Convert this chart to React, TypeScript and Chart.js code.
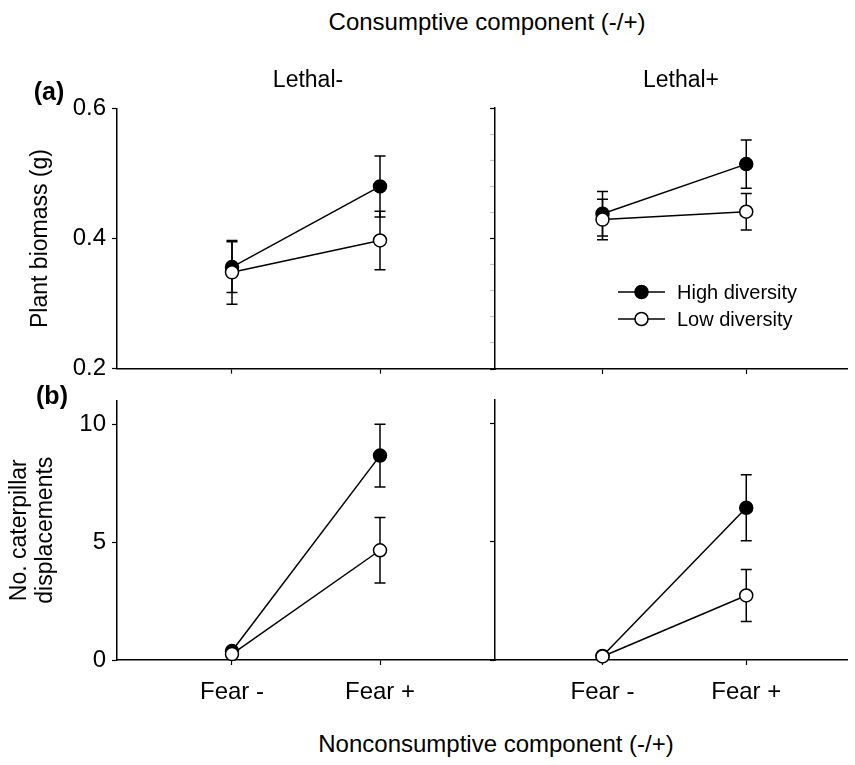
import React, { useEffect, useRef } from 'react';
import { Chart, registerables } from 'chart.js';

Chart.register(...registerables);

const FONT = "'Liberation Sans', Arial, Helvetica, sans-serif";
Chart.defaults.font.family = FONT;
Chart.defaults.color = '#000';

// ---------- data ----------
const categories = ['Fear -', 'Fear +'];
const xPos = [0, 1];
const seriesNames = ['High diversity', 'Low diversity'];
const columnTitles = ['Lethal-', 'Lethal+'];
const panelTags = ['(a)', '(b)'];
const topTitle = 'Consumptive component (-/+)';
const bottomTitle = 'Nonconsumptive component (-/+)';
const biomassTitle = 'Plant biomass (g)';
const dispTitle = ['No. caterpillar', 'displacements'];

const biomassTicks = [0.2, 0.4, 0.6];
const biomassMinorTicks = [0.2, 0.24, 0.28, 0.32, 0.36, 0.4, 0.44, 0.48, 0.52, 0.56, 0.6];
const dispTicks = [0, 5, 10];

// Plant biomass (g), Lethal-
const bioHighLm = [0.356, 0.48];
const bioHighLmErr = [0.039, 0.047];
const bioLowLm = [0.348, 0.397];
const bioLowLmErr = [0.049, 0.045];
// Plant biomass (g), Lethal+
const bioHighLp = [0.438, 0.514];
const bioHighLpErr = [0.034, 0.037];
const bioLowLp = [0.429, 0.441];
const bioLowLpErr = [0.031, 0.028];
// Caterpillar displacements, Lethal-
const dispHighLm = [0.38, 8.66];
const dispHighLmErr = [0.05, 1.33];
const dispLowLm = [0.25, 4.65];
const dispLowLmErr = [0.05, 1.39];
// Caterpillar displacements, Lethal+
const dispHighLp = [0.17, 6.44];
const dispHighLpErr = [0.03, 1.4];
const dispLowLp = [0.15, 2.73];
const dispLowLpErr = [0.03, 1.1];

// ---------- plugins ----------
const errorBarPlugin = {
  id: 'errorBars',
  beforeDatasetsDraw(chart: any) {
    const { ctx, scales } = chart;
    const x = scales.x;
    const y = scales.y;
    ctx.save();
    ctx.strokeStyle = '#000';
    ctx.lineWidth = 1.5;
    chart.data.datasets.forEach((ds: any) => {
      ds.data.forEach((pt: any, i: number) => {
        const e = ds.errors[i];
        const px = x.getPixelForValue(pt.x);
        const top = y.getPixelForValue(pt.y + e);
        const bot = y.getPixelForValue(pt.y - e);
        const cap = 5.5;
        ctx.beginPath();
        ctx.moveTo(px, top);
        ctx.lineTo(px, bot);
        ctx.moveTo(px - cap, top);
        ctx.lineTo(px + cap, top);
        ctx.moveTo(px - cap, bot);
        ctx.lineTo(px + cap, bot);
        ctx.stroke();
      });
    });
    ctx.restore();
  },
};

const legendPlugin = {
  id: 'inlineLegend',
  afterDatasetsDraw(chart: any) {
    const { ctx, chartArea } = chart;
    const x0 = chartArea.left + 123;
    const lineLen = 47;
    ctx.save();
    chart.data.datasets.forEach((ds: any, i: number) => {
      const yy = chartArea.top + 184 + i * 27;
      ctx.strokeStyle = '#000';
      ctx.lineWidth = 1.5;
      ctx.beginPath();
      ctx.moveTo(x0, yy);
      ctx.lineTo(x0 + lineLen, yy);
      ctx.stroke();
      ctx.beginPath();
      ctx.arc(x0 + lineLen / 2, yy, 6.5, 0, Math.PI * 2);
      ctx.fillStyle = ds.pointBackgroundColor;
      ctx.fill();
      ctx.stroke();
      ctx.fillStyle = '#000';
      ctx.font = `20px ${FONT}`;
      ctx.textAlign = 'left';
      ctx.textBaseline = 'middle';
      ctx.fillText(ds.label, x0 + 59, yy + 1);
    });
    ctx.restore();
  },
};

// ---------- panels ----------
interface PanelSpec {
  key: string;
  l: number; t: number; r: number; b: number;
  leftW: number; padTop: number; padRight: number; padBottom: number; bottomH: number;
  xMin: number; xMax: number;
  yMin: number; yMax: number;
  yTicks: number[];
  yLabels: boolean;
  yFmt: (v: number) => string;
  yTitle?: string | string[];
  titlePad?: number;
  titleLH?: number;
  xLabels: boolean;
  high: number[]; highErr: number[];
  low: number[]; lowErr: number[];
  legend: boolean;
}

const fmt1 = (v: number) => v.toFixed(1);
const fmt0 = (v: number) => String(Math.round(v));

const panels: PanelSpec[] = [
  {
    key: 'tl', l: 117, t: 108, r: 495, b: 369, leftW: 117, padTop: 20, padRight: 10, padBottom: 12, bottomH: 8,
    xMin: -0.777, xMax: 1.777, yMin: 0.2, yMax: 0.6, yTicks: biomassTicks, yLabels: true, yFmt: fmt1,
    yTitle: biomassTitle, titlePad: 27, titleLH: 1.2, xLabels: false,
    high: bioHighLm, highErr: bioHighLmErr, low: bioLowLm, lowErr: bioLowLmErr, legend: false,
  },
  {
    key: 'tr', l: 495, t: 108, r: 855, b: 369, leftW: 12, padTop: 20, padRight: 0, padBottom: 12, bottomH: 8,
    xMin: -0.748, xMax: 1.701, yMin: 0.2, yMax: 0.6, yTicks: biomassMinorTicks, yLabels: false, yFmt: fmt1,
    xLabels: false,
    high: bioHighLp, highErr: bioHighLpErr, low: bioLowLp, lowErr: bioLowLpErr, legend: true,
  },
  {
    key: 'bl', l: 117, t: 400, r: 495, b: 660, leftW: 117, padTop: 20, padRight: 10, padBottom: 0, bottomH: 50,
    xMin: -0.777, xMax: 1.777, yMin: 0, yMax: 11, yTicks: dispTicks, yLabels: true, yFmt: fmt0,
    yTitle: dispTitle, titlePad: 7, titleLH: 1.13, xLabels: true,
    high: dispHighLm, highErr: dispHighLmErr, low: dispLowLm, lowErr: dispLowLmErr, legend: false,
  },
  {
    key: 'br', l: 495, t: 400, r: 855, b: 660, leftW: 12, padTop: 20, padRight: 0, padBottom: 0, bottomH: 50,
    xMin: -0.748, xMax: 1.701, yMin: 0, yMax: 11, yTicks: dispTicks, yLabels: false, yFmt: fmt0,
    xLabels: true,
    high: dispHighLp, highErr: dispHighLpErr, low: dispLowLp, lowErr: dispLowLpErr, legend: false,
  },
];

const isMajorBio = (v: number) => Math.abs(v * 5 - Math.round(v * 5)) < 1e-6;

function buildConfig(p: PanelSpec): any {
  const mk = (label: string, vals: number[], errs: number[], fill: string, order: number) => ({
    label,
    data: xPos.map((x, i) => ({ x, y: vals[i] })),
    errors: errs,
    borderColor: '#000',
    backgroundColor: fill,
    pointBackgroundColor: fill,
    pointBorderColor: '#000',
    pointRadius: 6.5,
    pointBorderWidth: 1.5,
    borderWidth: 1.5,
    tension: 0,
    clip: false,
    order,
  });
  return {
    type: 'line',
    data: {
      datasets: [
        mk(seriesNames[0], p.high, p.highErr, '#000', 1),
        mk(seriesNames[1], p.low, p.lowErr, '#fff', 0),
      ],
    },
    options: {
      animation: false,
      responsive: false,
      maintainAspectRatio: false,
      events: [],
      layout: { padding: { top: p.padTop, right: p.padRight, bottom: p.padBottom, left: 0 } },
      plugins: { legend: { display: false }, tooltip: { enabled: false }, title: { display: false } },
      scales: {
        x: {
          type: 'linear',
          position: 'bottom',
          min: p.xMin,
          max: p.xMax,
          afterBuildTicks: (s: any) => { s.ticks = xPos.map((v) => ({ value: v })); },
          afterFit: (s: any) => { s.height = p.bottomH; },
          ticks: {
            display: p.xLabels,
            autoSkip: false,
            maxRotation: 0,
            padding: 13,
            color: '#000',
            font: { size: 24, family: FONT },
            callback: (v: number) => categories[xPos.indexOf(v)] ?? '',
          },
          grid: { display: true, drawOnChartArea: false, drawTicks: true, tickLength: 5, color: '#000', tickColor: '#000', tickWidth: 1.2 },
          border: { display: true, color: '#000', width: 1.5 },
        },
        y: {
          type: 'linear',
          position: 'left',
          min: p.yMin,
          max: p.yMax,
          afterBuildTicks: (s: any) => { s.ticks = p.yTicks.map((v) => ({ value: v })); },
          afterFit: (s: any) => { s.width = p.leftW; },
          ticks: {
            display: p.yLabels,
            padding: 6,
            color: '#000',
            font: { size: 24, family: FONT },
            callback: (v: number) => p.yFmt(v),
          },
          title: p.yTitle
            ? {
                display: true,
                text: p.yTitle,
                color: '#000',
                font: { size: 23, family: FONT, lineHeight: p.titleLH },
                padding: { top: p.titlePad, bottom: 0 },
              }
            : { display: false },
          grid: {
            display: true,
            drawOnChartArea: false,
            drawTicks: true,
            tickLength: 5,
            color: '#000',
            tickWidth: 1.2,
            tickColor: (c: any) => (p.legend && c.tick && !isMajorBio(c.tick.value) ? '#c4c4c4' : '#000'),
          },
          border: { display: true, color: '#000', width: 1.5 },
        },
      },
    },
    plugins: p.legend ? [errorBarPlugin, legendPlugin] : [errorBarPlugin],
  };
}

function Panel({ spec }: { spec: PanelSpec }) {
  const ref = useRef<HTMLCanvasElement>(null);
  const w = spec.leftW + (spec.r - spec.l) + spec.padRight;
  const h = spec.padTop + (spec.b - spec.t) + spec.bottomH + spec.padBottom;
  const left = spec.l - spec.leftW;
  const top = spec.t - spec.padTop;
  useEffect(() => {
    if (!ref.current) return;
    const chart = new Chart(ref.current, buildConfig(spec));
    return () => chart.destroy();
  }, [spec]);
  return (
    <canvas
      ref={ref}
      width={w}
      height={h}
      style={{ position: 'absolute', left, top, width: w, height: h }}
    />
  );
}

function Label({ text, cx, cy, size, bold }: { text: string; cx: number; cy: number; size: number; bold?: boolean }) {
  return (
    <div
      style={{
        position: 'absolute',
        left: cx,
        top: cy,
        transform: 'translate(-50%, -50%)',
        fontSize: size,
        lineHeight: 1,
        fontWeight: bold ? 'bold' : 'normal',
        whiteSpace: 'nowrap',
        fontFamily: FONT,
        color: '#000',
      }}
    >
      {text}
    </div>
  );
}

export default function App() {
  return (
    <div
      style={{
        position: 'absolute',
        left: 0,
        top: 0,
        width: 855,
        height: 765,
        overflow: 'hidden',
        background: '#fff',
      }}
    >
      {panels.map((p) => (
        <Panel key={p.key} spec={p} />
      ))}
      <Label text={topTitle} cx={487} cy={22} size={24} />
      <Label text={columnTitles[0]} cx={308} cy={79} size={23} />
      <Label text={columnTitles[1]} cx={681} cy={79} size={23} />
      <Label text={panelTags[0]} cx={49} cy={91} size={25} bold />
      <Label text={panelTags[1]} cx={52} cy={395} size={25} bold />
      <Label text={bottomTitle} cx={496} cy={744} size={24} />
    </div>
  );
}
